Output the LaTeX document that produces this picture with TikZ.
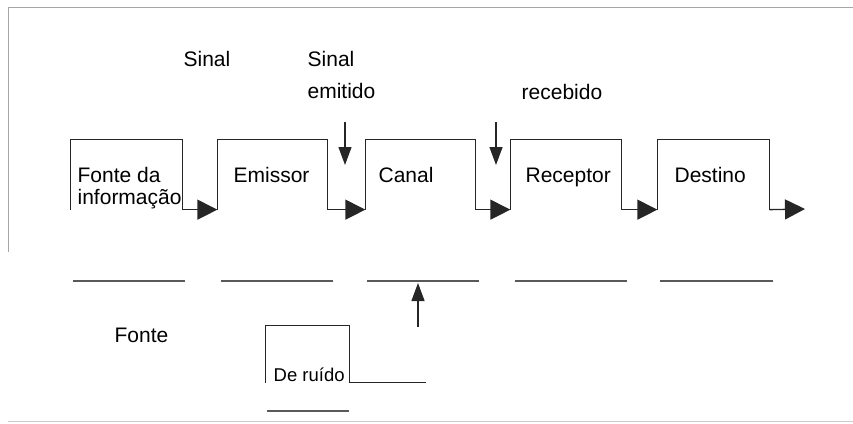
\documentclass[tikz,border=0pt]{standalone}
\usepackage{fontspec}
\setmainfont{Liberation Sans}
\usetikzlibrary{arrows.meta}

\tikzset{
	bloco/.style = {rectangle, inner sep=0pt, minimum height=69pt},
	rotulo/.style = {anchor=base west, inner sep=0pt},
	seta/.style = {-{Triangle[length=20pt,width=20pt]}},
	setav/.style = {-{Triangle[length=18pt,width=13pt]}},
	traco/.style = {draw=black!65, line width=1.6pt}
}

\begin{document}
\begin{tikzpicture}[x=1pt,y=-1pt,line width=1.3pt,draw=black!85,font=\fontsize{21}{22}\selectfont]
	\useasboundingbox (0,0) rectangle (853,423);
	% moldura
	\draw[black!35, line width=1pt] (853,7) -- (8,7) -- (8,252);
	\draw[black!20, line width=1pt] (8,421) -- (853,421);

	% blocos
	\node (fonte)    at (126.5, 174.5)	[bloco, minimum width=111pt]	{};
	\node (emissor)  at (272.5, 174.5)	[bloco, minimum width=109pt]	{};
	\node (canal)    at (420.5, 174.5)	[bloco, minimum width=109pt]	{};
	\node (receptor) at (566,   174.5)	[bloco, minimum width=110pt]	{};
	\node (destino)  at (713.5, 174.5)	[bloco, minimum width=111pt]	{};
	\node (ruido)    at (307.5, 354)	[rectangle, inner sep=0pt, minimum width=83pt, minimum height=56pt]	{};
	\coordinate (saida) at (805, 209);

	\draw (fonte.south west) |- (fonte.north east) -- (fonte.south east);
	\draw (emissor.south west) |- (emissor.north east) -- (emissor.south east);
	\draw (canal.south west) |- (canal.north east) -- (canal.south east);
	\draw (receptor.south west) |- (receptor.north east) -- (receptor.south east);
	\draw (destino.south west) |- (destino.north east) -- (destino.south east);
	\draw (ruido.south west) |- (ruido.north east) -- (ruido.south east) -- ++(76,0);

	\draw[seta] (fonte.south east) -- (emissor.south west);
	\draw[seta] (emissor.south east) -- (canal.south west);
	\draw[seta] (canal.south east) -- (receptor.south west);
	\draw[seta] (receptor.south east) -- (destino.south west);
	\draw[seta] (destino.south east) -- (saida);

	% textos
	\node (t1) at (77, 182)	[rotulo]	{Fonte da};
	\node (t1b) at (77, 204)	[rotulo]	{informação};
	\node (t2) at (233, 182)	[rotulo]	{Emissor};
	\node (t3) at (378, 182)	[rotulo]	{Canal};
	\node (t4) at (525, 182)	[rotulo]	{Receptor};
	\node (t5) at (674, 182)	[rotulo]	{Destino};
	\node (s1) at (183, 66)	[rotulo]	{Sinal};
	\node (s2) at (307, 66)	[rotulo]	{Sinal};
	\node (s2b) at (307, 98)	[rotulo]	{emitido};
	\node (s3) at (521, 99)	[rotulo]	{recebido};
	\node (f1) at (114, 342)	[rotulo]	{Fonte};
	\node (r1) at (273, 381)	[rotulo, font=\fontsize{18.5}{20}\selectfont]	{De ruído};

	% setas verticais
	\coordinate (a1) at (345, 122);
	\coordinate (a1b) at (345, 165);
	\coordinate (a2) at (496, 122);
	\coordinate (a2b) at (496, 165);
	\coordinate (a3) at (418, 327);
	\coordinate (a3b) at (418, 283);
	\draw[setav] (a1) -- (a1b);
	\draw[setav] (a2) -- (a2b);
	\draw[setav] (a3) -- (a3b);

	% linhas
	\draw[traco] (73, 281) -- (185, 281);
	\draw[traco] (221, 281) -- (333, 281);
	\draw[traco] (367, 281) -- (479, 281);
	\draw[traco] (515, 281) -- (627, 281);
	\draw[traco] (660, 281) -- (773, 281);
	\draw[traco] (267, 411) -- (349, 411);
\end{tikzpicture}
\end{document}
